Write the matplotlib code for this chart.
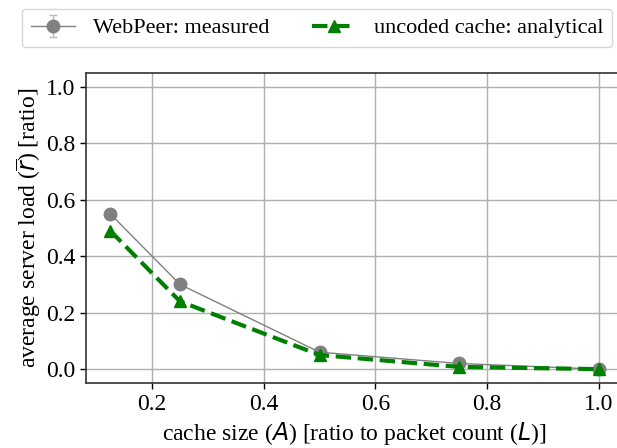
import matplotlib
matplotlib.use("Agg")
import matplotlib.pyplot as plt

cache_size = [0.125, 0.25, 0.5, 0.75, 1.0]
webpeer_measured = [0.55, 0.30, 0.06, 0.02, 0.0]
webpeer_err = [0.005, 0.005, 0.003, 0.002, 0.001]
uncoded_analytical = [0.49, 0.24, 0.05, 0.008, 0.0]

plt.rcParams['font.family'] = ['Liberation Serif', 'DejaVu Serif']
plt.rcParams['mathtext.fontset'] = 'dejavusans'
plt.rcParams['font.size'] = 17

fig = plt.figure(figsize=(6.17, 4.48), dpi=100)
ax = fig.add_axes([0.139, 0.1445, 0.871, 0.6935])

h1 = ax.errorbar(cache_size, webpeer_measured, yerr=webpeer_err, color='gray', lw=1,
                 marker='o', markersize=9, capsize=3, ecolor='#bbbbbb',
                 label='WebPeer: measured', zorder=3)
h2, = ax.plot(cache_size, uncoded_analytical, color='green', lw=3, ls='--',
              marker='^', markersize=9, label='uncoded cache: analytical', zorder=4)

ax.set_ylim(-0.05, 1.05)
ax.set_yticks([0.0, 0.2, 0.4, 0.6, 0.8, 1.0])
ax.set_xticks([0.2, 0.4, 0.6, 0.8, 1.0])
ax.grid(True, color='#b0b0b0', lw=1)
ax.set_axisbelow(True)
for s in ax.spines.values():
    s.set_color('#333333')
    s.set_linewidth(1.2)
ax.tick_params(colors='black', length=4, width=1, labelsize=17)

ax.set_xlabel(r'cache size ($A$) [ratio to packet count ($L$)]', labelpad=3.5)
ax.set_ylabel(r'average server load ($\overline{r}$) [ratio]', labelpad=2)

fig.legend(handles=[h1, h2], labels=['WebPeer: measured', 'uncoded cache: analytical'],
           loc='upper left', bbox_to_anchor=(22/617, 1 - 9/448), ncol=2,
           borderaxespad=0, frameon=True, fancybox=True, edgecolor='#cccccc',
           columnspacing=1.9, handlelength=2.0, handletextpad=0.8, fontsize=16)

fig.savefig('out.png', dpi=100)
